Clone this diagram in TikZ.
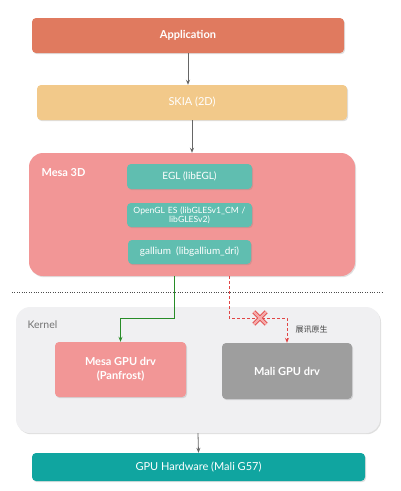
\documentclass[tikz,border=0pt]{standalone}
\usepackage{fontspec}
\setmainfont{Lato}
\newfontfamily\cjk{Noto Sans CJK SC}
\usetikzlibrary{arrows.meta,shadows}
\definecolor{appcol}{RGB}{224,122,95}
\definecolor{skiacol}{RGB}{242,201,138}
\definecolor{mesacol}{RGB}{242,150,150}
\definecolor{libcol}{RGB}{96,190,176}
\definecolor{kerncol}{RGB}{240,240,242}
\definecolor{malicol}{RGB}{158,158,158}
\definecolor{hwcol}{RGB}{16,165,160}
\definecolor{okcol}{RGB}{40,140,40}
\definecolor{nocol}{RGB}{225,70,70}

\begin{document}
\begin{tikzpicture}[
  x=1pt, y=-1pt,
  every node/.style={font=\fontsize{11}{13}\selectfont},
  box/.style={rounded corners=4pt, align=center, inner sep=2pt, text=white,
    drop shadow={opacity=0.25, shadow xshift=1pt, shadow yshift=-1.2pt}},
  libbox/.style={box, fill=libcol, font=\fontsize{10}{11}\selectfont},
  arr/.style={-{Stealth[length=5pt,width=4pt]}, line width=0.8pt, black!60},
  garr/.style={-{Stealth[length=5pt,width=4pt]}, line width=0.9pt, okcol},
  rarr/.style={-{Stealth[length=5pt,width=4pt]}, line width=0.8pt, nocol, densely dashed}
]
\useasboundingbox (0,0) rectangle (401,491);

% =================== user space ===================
\node[box, fill=appcol, minimum width=312pt, minimum height=35pt, font=\fontsize{11}{13}\selectfont\bfseries] (app) at (188,35.5) {Application};
\node[box, fill=skiacol, minimum width=310pt, minimum height=35pt] (skia) at (192,102.5) {SKIA (2D)};

% =================== mesa ===================
\node[box, fill=mesacol, rounded corners=14pt, minimum width=326pt, minimum height=123pt] (mesa) at (192,214.5) {};
\node[text=white, font=\fontsize{11}{13}\selectfont\bfseries, anchor=west] (mesalbl) at (38,173) {Mesa 3D};
\node[libbox, minimum width=125pt, minimum height=25pt] (egl) at (189.5,176.5) {EGL (libEGL)};
\node[libbox, minimum width=123pt, minimum height=24pt, text width=121pt, font=\fontsize{8.6}{9.2}\selectfont] (gles) at (189.5,215) {OpenGL ES (libGLESv1\_CM /\\ libGLESv2)};
\node[libbox, minimum width=123pt, minimum height=24pt] (gal) at (189.5,252) {gallium\ \ (libgallium\_dri)};

% user / kernel split
\draw[dotted, black!70] (12,292) -- (383,292);

% =================== kernel ===================
\node[box, fill=kerncol, rounded corners=14pt, minimum width=364pt, minimum height=126pt] (kernel) at (198,370) {};
\node[text=black!55, anchor=west, font=\fontsize{10.5}{12}\selectfont] (kernlbl) at (24,325) {Kernel};
\node[box, fill=mesacol, minimum width=131pt, minimum height=55pt, font=\fontsize{11}{14}\selectfont\bfseries] (panfrost) at (120.5,369.5) {Mesa GPU drv\\(Panfrost)};
\node[box, fill=malicol, minimum width=130pt, minimum height=56pt, font=\fontsize{11}{13}\selectfont\bfseries] (mali) at (287,371) {Mali GPU drv};

% =================== hardware ===================
\node[box, fill=hwcol, minimum width=333pt, minimum height=28pt] (gpu) at (198.5,467) {GPU Hardware (Mali G57)};

% =================== arrows ===================
\draw[arr] (app.south) -- (app.south |- skia.north);
\draw[arr] (skia.south) -- (skia.south |- mesa.north);
\draw[arr] (kernel.south) -- (gpu.north);
\coordinate (gout) at (174,276);
\coordinate (rout) at (229,276);
\draw[garr] (gout) -- ++(0,42) -| (panfrost.north);
\draw[rarr] (rout) -- ++(0,42) -| (mali.north);
% blocked path
\node[minimum size=12pt, inner sep=0pt] (xmark) at (260,318) {};
\draw[line width=4.2pt, nocol] (xmark.north west) -- (xmark.south east) (xmark.north east) -- (xmark.south west);
\draw[line width=2.4pt, mesacol!80!white] (xmark.north west) -- (xmark.south east) (xmark.north east) -- (xmark.south west);
\node[font=\cjk\fontsize{8}{9}\selectfont, text=black!75, anchor=west] (vendor) at (292,330) {展讯原生};

\end{tikzpicture}
\end{document}
